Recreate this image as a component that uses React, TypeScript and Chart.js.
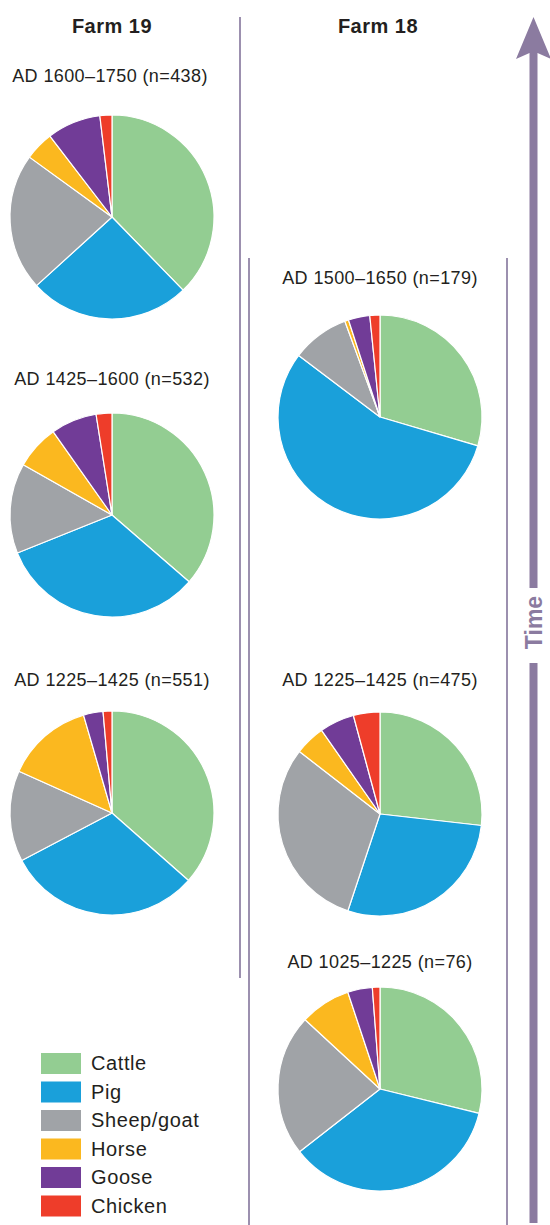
import React, { useEffect, useRef } from "react";
import { Chart, registerables } from "chart.js";

Chart.register(...registerables);

// ---------- data ----------
const species = ["Cattle", "Pig", "Sheep/goat", "Horse", "Goose", "Chicken"];
const speciesColors = ["#93cd92", "#1aa0da", "#a0a3a7", "#fbb81f", "#713c97", "#ee3d2a"];

const farmNames = ["Farm 19", "Farm 18"];

const farm19Periods = ["AD 1600–1750 (n=438)", "AD 1425–1600 (n=532)", "AD 1225–1425 (n=551)"];
const farm19_1600_1750 = [37.7, 25.5, 21.7, 4.6, 8.5, 1.9];
const farm19_1425_1600 = [36.4, 32.6, 14.3, 7.0, 7.3, 2.5];
const farm19_1225_1425 = [36.5, 30.8, 14.4, 13.8, 3.1, 1.4];

const farm18Periods = ["AD 1500–1650 (n=179)", "AD 1225–1425 (n=475)", "AD 1025–1225 (n=76)"];
const farm18_1500_1650 = [29.6, 55.8, 9.1, 0.6, 3.4, 1.6];
const farm18_1225_1425 = [26.8, 28.3, 30.4, 4.8, 5.5, 4.2];
const farm18_1025_1225 = [28.8, 35.6, 22.4, 8.0, 3.9, 1.2];

const timeLabel = "Time";

// ---------- layout ----------
const FONT = "'Liberation Sans', Arial, Helvetica, sans-serif";
const TEXT = "#231f20";
const LINE = "#7b6b94";
const ARROW = "#8b7ba0";
const R = 102;
const BOX = 220;

const pies = [
  { title: farm19Periods[0], values: farm19_1600_1750, cx: 112, cy: 217, tx: 110, ty: 82 },
  { title: farm19Periods[1], values: farm19_1425_1600, cx: 112, cy: 515, tx: 112, ty: 385 },
  { title: farm19Periods[2], values: farm19_1225_1425, cx: 112, cy: 813, tx: 112, ty: 686 },
  { title: farm18Periods[0], values: farm18_1500_1650, cx: 380, cy: 417, tx: 380, ty: 284 },
  { title: farm18Periods[1], values: farm18_1225_1425, cx: 380, cy: 814, tx: 380, ty: 686 },
  { title: farm18Periods[2], values: farm18_1025_1225, cx: 380, cy: 1089, tx: 380, ty: 968 },
];

function Pie({ values, cx, cy }: { values: number[]; cx: number; cy: number }) {
  const ref = useRef<HTMLCanvasElement | null>(null);
  useEffect(() => {
    if (!ref.current) return;
    const chart = new Chart(ref.current, {
      type: "pie",
      data: {
        labels: species,
        datasets: [
          {
            data: values,
            backgroundColor: speciesColors,
            borderColor: "#ffffff",
            borderWidth: 1.2,
          },
        ],
      },
      options: {
        responsive: false,
        animation: false,
        radius: R,
        layout: { padding: 0 },
        plugins: { legend: { display: false }, tooltip: { enabled: false } },
      } as any,
    });
    return () => chart.destroy();
  }, [values]);
  return (
    <canvas
      ref={ref}
      width={BOX}
      height={BOX}
      style={{ position: "absolute", left: cx - BOX / 2, top: cy - BOX / 2, width: BOX, height: BOX }}
    />
  );
}

export default function App() {
  const legendTop = 1053;
  const legendStep = 28.5;
  return (
    <div style={{ position: "absolute", left: 0, top: 0, width: 550, height: 1225, background: "#fff", overflow: "hidden" }}>
      <svg width={550} height={1225} style={{ position: "absolute", left: 0, top: 0 }}>
        {/* headers */}
        <text x={112} y={33} textAnchor="middle" fontFamily={FONT} fontWeight="bold" fontSize={20} letterSpacing={0.5} fill={TEXT}>
          {farmNames[0]}
        </text>
        <text x={378} y={33} textAnchor="middle" fontFamily={FONT} fontWeight="bold" fontSize={20} letterSpacing={0.5} fill={TEXT}>
          {farmNames[1]}
        </text>
        {/* separators */}
        <line x1={240} y1={17} x2={240} y2={978} stroke={LINE} strokeWidth={1.5} />
        <line x1={249} y1={258} x2={249} y2={1225} stroke={LINE} strokeWidth={1.5} />
        <line x1={507} y1={258} x2={507} y2={1225} stroke={LINE} strokeWidth={1.5} />
        {/* time arrow */}
        <polygon points="533.5,17 551,59 537.5,53 529.5,53 516,59" fill={ARROW} />
        <rect x={529.5} y={52} width={8} height={536} fill={ARROW} />
        <rect x={529.5} y={663} width={8} height={560} fill={ARROW} />
        <text
          transform="translate(541.5,622.5) rotate(-90)"
          textAnchor="middle"
          fontFamily={FONT}
          fontWeight="bold"
          fontSize={23}
          fill={ARROW}
        >
          {timeLabel}
        </text>
        {/* pie titles */}
        {pies.map((p, i) => (
          <text key={i} x={p.tx} y={p.ty} textAnchor="middle" fontFamily={FONT} fontSize={18} letterSpacing={0.4} fill={TEXT}>
            {p.title}
          </text>
        ))}
        {/* legend */}
        {species.map((s, i) => (
          <g key={s}>
            <rect x={41} y={legendTop + i * legendStep} width={40} height={21} fill={speciesColors[i]} />
            <text x={91} y={legendTop + i * legendStep + 17} fontFamily={FONT} fontSize={20} letterSpacing={0.6} fill={TEXT}>
              {s}
            </text>
          </g>
        ))}
      </svg>
      {pies.map((p, i) => (
        <Pie key={i} values={p.values} cx={p.cx} cy={p.cy} />
      ))}
    </div>
  );
}
